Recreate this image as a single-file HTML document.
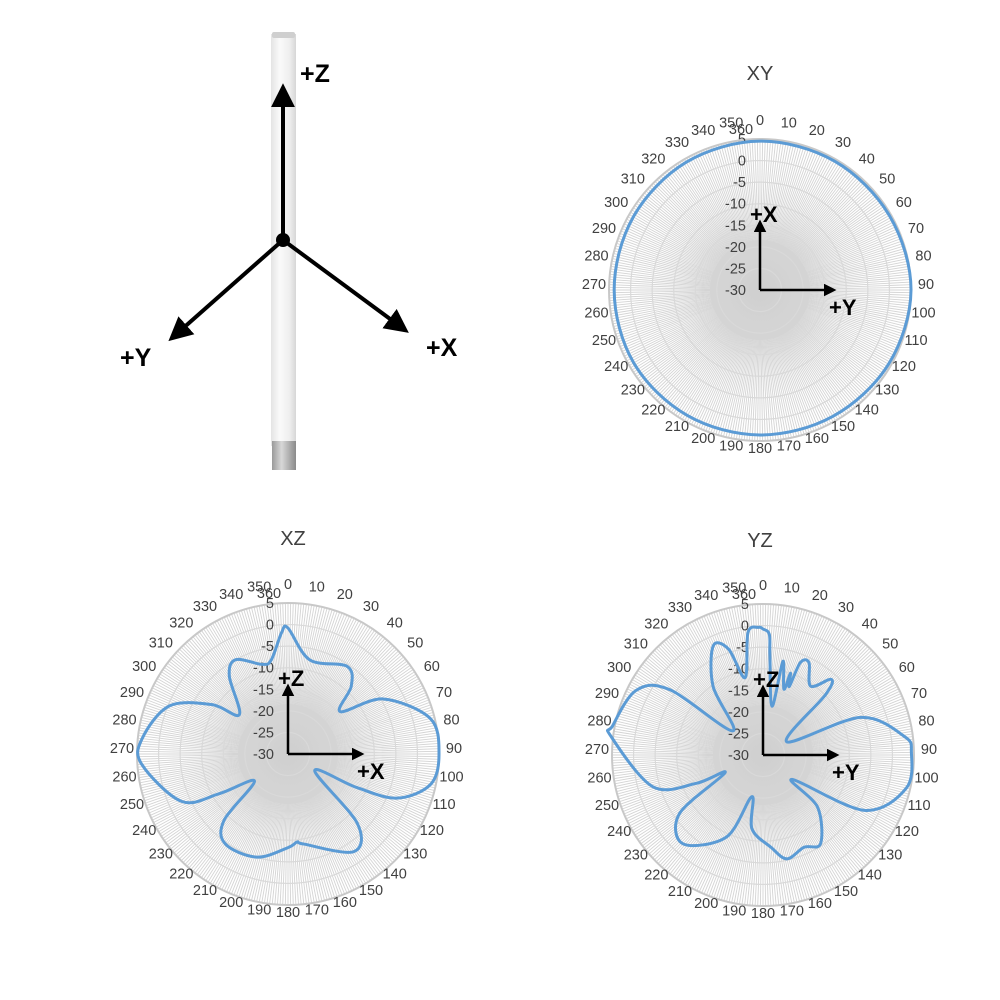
<!DOCTYPE html>
<html><head><meta charset="utf-8">
<style>
html,body{margin:0;padding:0;background:#fff;}
svg{display:block;font-family:"Liberation Sans",sans-serif;}
.tick{font-size:14.5px;fill:#404040;}
.title{font-size:20px;fill:#404040;}
.axl{font-size:22px;font-weight:bold;fill:#000;}
</style></head>
<body>
<svg id="root" width="1000" height="1000" viewBox="0 0 1000 1000">
<defs>
<linearGradient id="pole" x1="0" x2="1" y1="0" y2="0">
<stop offset="0" stop-color="#e4e4e4"/><stop offset="0.35" stop-color="#fafafa"/><stop offset="0.75" stop-color="#eeeeee"/><stop offset="1" stop-color="#d6d6d6"/>
</linearGradient>
<linearGradient id="metal" x1="0" x2="1" y1="0" y2="0">
<stop offset="0" stop-color="#9a9a9a"/><stop offset="0.4" stop-color="#d8d8d8"/><stop offset="1" stop-color="#8a8a8a"/>
</linearGradient>
<radialGradient id="coreg"><stop offset="0" stop-color="#cfcfcf"/><stop offset="1" stop-color="#d6d6d6"/></radialGradient>
<marker id="ah" viewBox="0 0 10 10" refX="8" refY="5" markerWidth="5" markerHeight="5" orient="auto"><path d="M0,0 L10,5 L0,10 z" fill="#000"/></marker>
<marker id="ahs" viewBox="0 0 10 10" refX="8" refY="5" markerWidth="6" markerHeight="6" orient="auto"><path d="M0,0 L10,5 L0,10 z" fill="#000"/></marker>
</defs>
<g>
<rect x="271" y="34" width="25" height="412" fill="url(#pole)"/>
<rect x="272" y="32" width="23" height="6" rx="2" fill="#cfcfcf"/>
<rect x="272" y="441" width="24" height="29" fill="url(#metal)"/>
<line x1="283" y1="240" x2="283" y2="88" stroke="#000" stroke-width="4" marker-end="url(#ahs)"/>
<line x1="283" y1="240" x2="172" y2="338" stroke="#000" stroke-width="4" marker-end="url(#ahs)"/>
<line x1="283" y1="240" x2="405" y2="330" stroke="#000" stroke-width="4" marker-end="url(#ahs)"/>
<circle cx="283" cy="240" r="7" fill="#000"/>
<text x="300" y="82" font-size="25" font-weight="bold">+Z</text>
<text x="120" y="366" font-size="25" font-weight="bold">+Y</text>
<text x="426" y="356" font-size="25" font-weight="bold">+X</text>
</g>
</svg>
<script>
// XY plane pattern (angle deg, gain dB)
const xyAngles = [0,30,60,90,120,150,180,210,240,270,300,330];
const xyValues = [4.5,4.5,4.6,5,4.4,3.8,3.6,3.6,3.8,3.8,3.9,4.2];
// XZ plane pattern
const xzAngles = [0,13,34,43,51,60,76,90,102,112,116,122,135,146,170,174,180,197,215,224,231,240,246,266,276,292,303,309,323,331,344,350,357];
const xzValues = [-0.8,-7.6,-5.5,-8.5,-14.4,-4.5,4,5,3.8,-2.7,-12.3,-22.7,-7.3,-2.7,-8.8,-9.5,-8.3,-5,-4.6,-8.7,-20,-11.6,-3,4,4,-0.3,-9,-15.5,-7.4,-5,-8.4,-7.8,-1.8];
// YZ plane pattern
const yzAngles = [0,3,4,10.5,12,17.6,18.5,21,22,26.5,34.7,42,46,61,69,82.6,89,103,118.6,130,133.7,147,156,167,175,188.5,195,204,222,235,245,247,254,277,281,297,305,308.5,324,335.5,342,347,353,358];
const yzValues = [-0.8,-2,-7,-18.5,-7.8,-14,-10,-13,-6.9,-6.1,-10.6,-6.4,-9.8,-23.7,-5.7,3.1,4.4,4.1,-3.2,-21.2,-12.5,-5.5,-6.6,-5.3,-8.5,-12.7,-20,-9.2,-2.3,-6.4,-20.3,-13.2,-3.4,5.5,5.5,3,-3.6,-21,-10.3,-2.2,-4.2,-11.6,-1.4,-0.4];
const rTicks = [5,0,-5,-10,-15,-20,-25,-30];
const angleTicks = [0,10,20,30,40,50,60,70,80,90,100,110,120,130,140,150,160,170,180,190,200,210,220,230,240,250,260,270,280,290,300,310,320,330,340,350];

const NS = "http://www.w3.org/2000/svg";
const root = document.getElementById('root');
const R = 151, VMIN = -30, VMAX = 5;
function mk(tag, attrs, parent){ const e=document.createElementNS(NS,tag); for(const k in attrs) e.setAttribute(k,attrs[k]); parent.appendChild(e); return e; }

function drawPolar(id, cx, cy, title, angles, values, hLabel, vLabel, titleX, titleY){
  const g = mk('g',{},root);
  
  
  const rs = v => (v - VMIN)/(VMAX - VMIN)*R;
  const pt = (a, r) => [cx + r*Math.sin(a*Math.PI/180), cy - r*Math.cos(a*Math.PI/180)];
  const core = mk('circle',{cx:cx,cy:cy,r:50,fill:'url(#coreg)'},g);
  
  
  // spokes
  const sp = mk('g',{stroke:'#d4d4d4','stroke-width':'0.9'},g);
  
  
  for(let a=0;a<360;a+=1){ const p=pt(a,R), q=pt(a,40); mk('line',{x1:q[0].toFixed(2),y1:q[1].toFixed(2),x2:p[0].toFixed(2),y2:p[1].toFixed(2)},sp); }
  // rings
  rTicks.forEach(v=>{ if(v>VMIN){
    const c = mk('circle',{cx:cx,cy:cy,r:rs(v),fill:'none',stroke:v===VMAX?'#c8c8c8':'#d9d9d9','stroke-width':v===VMAX?'2':'1.2'},g);
    
    
  }});
  // angle labels
  angleTicks.forEach(a=>{
    const s=Math.sin(a*Math.PI/180), c=Math.cos(a*Math.PI/180);
    const x = cx + 166*s, y = cy - 164*c - 6;
    const t = mk('text',{x:x.toFixed(1),y:(y+5).toFixed(1),'text-anchor':'middle',class:'tick'},g);
    t.textContent = a;
    
    
  });
  const t360 = mk('text',{x:cx-19,y:cy-156,'text-anchor':'middle',class:'tick'},g);
  t360.textContent='360';
  
  
  // radial labels
  rTicks.forEach(v=>{
    const t = mk('text',{x:cx-14,y:(cy-rs(v)+5).toFixed(1),'text-anchor':'end',class:'tick'},g);
    t.textContent = v;
    
    
  });
  // trace (closed Catmull-Rom through data points)
  const P = angles.map((a,i)=>pt(a, rs(values[i])));
  const n=P.length; let d='M'+P[0][0].toFixed(2)+','+P[0][1].toFixed(2);
  for(let i=0;i<n;i++){
    const p0=P[(i-1+n)%n],p1=P[i],p2=P[(i+1)%n],p3=P[(i+2)%n];
    const c1=[p1[0]+(p2[0]-p0[0])/6,p1[1]+(p2[1]-p0[1])/6];
    const c2=[p2[0]-(p3[0]-p1[0])/6,p2[1]-(p3[1]-p1[1])/6];
    d+=' C'+c1.map(v=>v.toFixed(2)).join(',')+' '+c2.map(v=>v.toFixed(2)).join(',')+' '+p2.map(v=>v.toFixed(2)).join(',');
  }
  const path = mk('path',{d:d+'Z',fill:'none',stroke:'#5b9bd5','stroke-width':'3','stroke-linejoin':'round'},g);
  
  
  // axes arrows
  const va = mk('line',{x1:cx,y1:cy,x2:cx,y2:cy-68,stroke:'#000','stroke-width':'2.5','marker-end':'url(#ah)'},g);
  
  
  const ha = mk('line',{x1:cx,y1:cy,x2:cx+74,y2:cy,stroke:'#000','stroke-width':'2.5','marker-end':'url(#ah)'},g);
  
  
  const vl = mk('text',{x:cx-10,y:cy-68,class:'axl'},g);
  vl.textContent = vLabel;
  
  
  const hl = mk('text',{x:cx+69,y:cy+25,class:'axl'},g);
  hl.textContent = hLabel;
  
  
  const tt = mk('text',{x:titleX,y:titleY,'text-anchor':'middle',class:'title'},g);
  tt.textContent = title;
  
  
}
drawPolar('xy', 760, 290, 'XY', xyAngles, xyValues, '+Y', '+X', 760, 80);
drawPolar('xz', 288, 754, 'XZ', xzAngles, xzValues, '+X', '+Z', 293, 545);
drawPolar('yz', 763, 755, 'YZ', yzAngles, yzValues, '+Y', '+Z', 760, 547);
</script>
</body></html>
